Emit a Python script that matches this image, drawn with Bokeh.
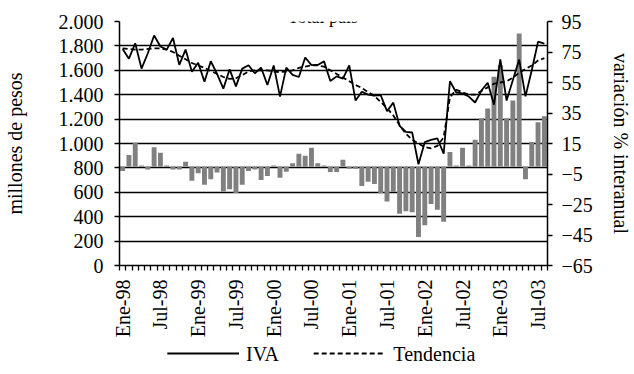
import math
from bokeh.plotting import figure
from bokeh.layouts import column
from bokeh.core.properties import value
from bokeh.models import Range1d, LinearAxis, FixedTicker, Label, ColumnDataSource
from bokeh.embed import file_html
from bokeh.resources import INLINE

# ---------------- data ----------------
meses_abr = ["Ene", "Feb", "Mar", "Abr", "May", "Jun", "Jul", "Ago", "Sep", "Oct", "Nov", "Dic"]
anios = ["98", "99", "00", "01", "02", "03"]
meses = [f"{m}-{a}" for a in anios for m in meses_abr][:68]   # Ene-98 .. Ago-03

iva = [1775, 1695, 1822, 1614, 1740, 1885, 1795, 1770, 1865, 1645,
       1770, 1588, 1662, 1506, 1674, 1570, 1450, 1608, 1468, 1614,
       1641, 1576, 1622, 1480, 1640, 1384, 1622, 1563, 1545, 1705,
       1642, 1644, 1673, 1512, 1550, 1532, 1640, 1353, 1424, 1401,
       1392, 1396, 1265, 1335, 1145, 1095, 1090, 830, 1011, 1030,
       1043, 916, 1510, 1418, 1410, 1385, 1336, 1434, 1498, 1318,
       1690, 1352, 1520, 1688, 1386, 1600, 1835, 1818]

tendencia = [1780, 1775, 1770, 1770, 1775, 1780, 1780, 1770, 1750, 1720,
             1690, 1660, 1640, 1620, 1595, 1570, 1545, 1530, 1535, 1560,
             1590, 1600, 1600, 1600, 1590, 1585, 1590, 1600, 1620, 1630,
             1640, 1640, 1630, 1600, 1570, 1540, 1510, 1480, 1455, 1420,
             1390, 1340, 1290, 1230, 1150, 1080, 1030, 1000, 970, 960,
             980, 1050, 1380, 1440, 1420, 1400, 1400, 1430, 1460, 1490,
             1500, 1510, 1540, 1580, 1610, 1640, 1680, 1700]

variacion = [-3, 7.5, 15.5, 0.5, -2, 12.5, 9, 0.5, -2, -2,
             3, -9.5, -4.5, -12, -8.5, -4, -16.5, -15, -17.5, -12,
             -3, -2, -9, -6.3, 0.5, -7.4, -3.5, 2, 8.3, 7,
             12.2, 2, 0.6, -3.7, -3.7, 4.4, -1.5, -1.5, -12.8, -10,
             -11.5, -17.6, -23, -16.7, -31, -29.5, -30, -46.3, -38.6, -24.7,
             -28.4, -36.3, 9.4, 0.6, 12.2, 0.6, 17.4, 31.6, 38, 58.7,
             66.5, 31.6, 43.2, 87.2, -8.5, 16, 29, 32.9]

left_ticks = [0, 200, 400, 600, 800, 1000, 1200, 1400, 1600, 1800, 2000]
left_labels = ["0", "200", "400", "600", "800", "1.000", "1.200", "1.400", "1.600", "1.800", "2.000"]
right_ticks = [-65, -45, -25, -5, 15, 35, 55, 75, 95]
x_label_pos = list(range(0, 68, 6))
series_names = ["IVA", "Tendencia"]

# ---------------- main figure ----------------
FONT = "Liberation Serif"
x = list(range(len(meses)))
src = ColumnDataSource(dict(x=x, iva=iva, tend=tendencia, var=variacion))

p = figure(width=634, height=340, output_backend="svg", toolbar_location=None,
           x_range=Range1d(-0.5, 67.5), y_range=Range1d(0, 2000),
           min_border_left=118, min_border_right=86, min_border_top=21,
           min_border_bottom=72)
p.outline_line_color = None
p.extra_y_ranges = {"pct": Range1d(-65, 95)}

p.xgrid.grid_line_color = None
p.ygrid.ticker = FixedTicker(ticks=left_ticks)
p.ygrid.grid_line_color = "black"
p.ygrid.grid_line_width = 1.5

p.vbar(x="x", top="var", bottom=0, width=0.78, source=src, y_range_name="pct",
       fill_color="#808080", line_color=None)
p.line("x", "iva", source=src, line_color="black", line_width=1.8)
p.line("x", "tend", source=src, line_color="black", line_width=1.8, line_dash="5 3")

ya = p.yaxis[0]
ya.ticker = FixedTicker(ticks=left_ticks)
ya.major_label_overrides = {t: l for t, l in zip(left_ticks, left_labels)}
ya.major_tick_out = 5
ya.major_tick_in = 0
ya.major_label_standoff = 11
ya.axis_label = "millones de pesos"
ya.axis_label_standoff = 30

ra = LinearAxis(y_range_name="pct", ticker=FixedTicker(ticks=right_ticks))
ra.major_tick_out = 5
ra.major_tick_in = 0
ra.major_label_standoff = 9
ra.axis_label = "variación % interanual"
ra.axis_label_standoff = 14
p.add_layout(ra, "right")

xa = p.xaxis[0]
xa.ticker = FixedTicker(ticks=x_label_pos, minor_ticks=[i - 0.5 for i in range(69)])
xa.major_label_overrides = {i: meses[i] for i in x_label_pos}
xa.major_label_orientation = math.pi / 2
xa.major_tick_out = 0
xa.major_tick_in = 0
xa.minor_tick_out = 5
xa.minor_tick_in = 0
xa.major_label_standoff = 9

for ax in (ya, ra, xa):
    ax.axis_line_color = "black"
    ax.axis_line_width = 1.5
    ax.major_tick_line_color = "black"
    ax.major_tick_line_width = 1.3
    ax.minor_tick_line_width = 1.3
    ax.minor_tick_line_color = "black" if ax is xa else None
    ax.major_label_text_font = FONT
    ax.major_label_text_font_size = "20px"
    ax.major_label_text_color = "black"
    ax.axis_label_text_font = FONT
    ax.axis_label_text_font_size = "20px"
    ax.axis_label_text_font_style = "normal"
    ax.axis_label_text_color = "black"

# title at the top edge
p.add_layout(Label(x=31.8, y=2040, text="Total país", text_align="center",
                   text_baseline="alphabetic", text_font=FONT,
                   text_font_size="18px", text_color="black"))

# ---------------- legend strip (frame aligned with the main plot) ----------------
lg = figure(width=634, height=34, output_backend="svg", toolbar_location=None,
            x_range=p.x_range, y_range=Range1d(0, 34),
            x_axis_location=None, y_axis_location=None,
            min_border_left=118, min_border_right=86,
            min_border_top=0, min_border_bottom=0)
lg.grid.visible = False
lg.outline_line_color = None

def px(xpix):
    """page pixel -> category units of the shared x range"""
    return (xpix - 118) / 6.32 - 0.5

ly = 21
lg.line([px(166), px(238)], [ly, ly], line_color="black", line_width=1.8)
lg.line([px(313), px(385)], [ly, ly], line_color="black", line_width=1.8, line_dash="5 3")
lg.text(x=[px(245), px(393)], y=[ly, ly], text=series_names, text_baseline="middle",
        text_align="left", text_font=value(FONT), text_font_size=value("20px"),
        text_color="black")

open("out.html", "w").write(file_html(column(p, lg, spacing=0), INLINE))
